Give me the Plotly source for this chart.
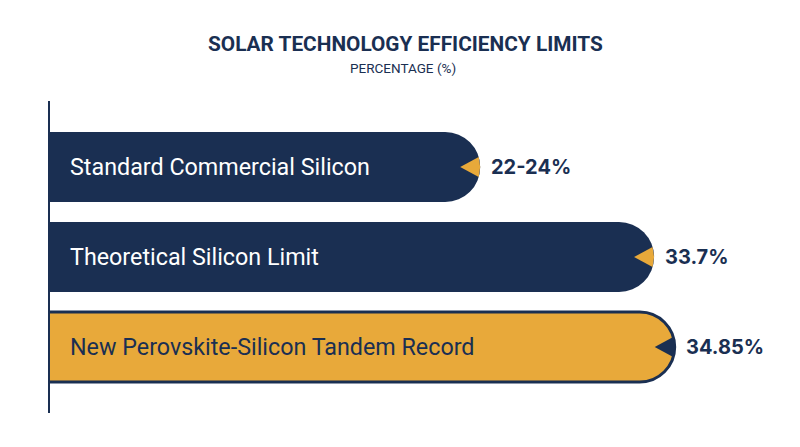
import plotly.graph_objects as go

categories = ["Standard Commercial Silicon", "Theoretical Silicon Limit", "New Perovskite-Silicon Tandem Record"]
values = [24, 33.7, 34.85]
value_labels = ["22-24%", "33.7%", "34.85%"]

NAVY = "#1a2f52"
ORANGE = "#e8a93a"
bar_colors = [NAVY, NAVY, ORANGE]
notch_colors = [ORANGE, ORANGE, NAVY]
line_widths = [0, 0, 3]

W, H = 800, 447
ML, MR, MT, MB = 42, 41, 93, 42
XMAX = 40
px_per_x = (W - ML - MR) / XMAX
Y_SPAN = 2 * 0.7333 + 2
px_per_y = (H - MT - MB) / Y_SPAN
BASE = -2.5

positions = list(range(len(categories)))

fig = go.Figure()
for i, v in enumerate(values):
    fig.add_trace(go.Bar(
        y=[positions[i]], x=[v - BASE], base=[BASE], orientation="h",
        width=0.778,
        marker=dict(color=bar_colors[i], cornerradius=35,
                    line=dict(color=NAVY, width=line_widths[i])),
        hoverinfo="skip", showlegend=False,
    ))
    # notch wedge at the bar end
    dx_tip = 20 / px_per_x
    dx_base = 1.5 / px_per_x
    dy = 10 / px_per_y
    p = positions[i]
    fig.add_trace(go.Scatter(
        x=[v - dx_tip, v - dx_base, v, v - dx_base, v - dx_tip],
        y=[p, p - dy, p, p + dy, p],
        mode="lines", fill="toself", fillcolor=notch_colors[i],
        line=dict(width=0, color=notch_colors[i]),
        hoverinfo="skip", showlegend=False,
    ))

annotations = []
for i, v in enumerate(values):
    annotations.append(dict(
        x=0, y=positions[i], xref="x", yref="y", text=categories[i], showarrow=False,
        xanchor="left", xshift=18,
        font=dict(family="Roboto", size=23.3,
                  color="white" if bar_colors[i] == NAVY else NAVY),
    ))
    annotations.append(dict(
        x=v, y=positions[i], xref="x", yref="y", text="<b>" + value_labels[i] + "</b>", showarrow=False,
        xanchor="left", xshift=9,
        font=dict(family="Inter", size=20, color=NAVY),
    ))
title_px = [(36, "<b>SOLAR TECHNOLOGY EFFICIENCY LIMITS</b>", 20.8, -3),
            (60, "PERCENTAGE (%)", 13.5, -6)]
for ypx, txt, sz, xs in title_px:
    annotations.append(dict(
        x=0.5, y=1 + (MT - ypx) / (H - MT - MB), xref="paper", yref="paper", text=txt,
        yanchor="middle", xshift=xs,
        showarrow=False, font=dict(family="Roboto", size=sz, color=NAVY),
    ))

fig.update_layout(
    width=W, height=H,
    margin=dict(l=ML, r=MR, t=MT, b=MB),
    paper_bgcolor="white", plot_bgcolor="white",
    barmode="overlay",
    xaxis=dict(range=[0, XMAX], showgrid=False, zeroline=False, showticklabels=False, showline=False),
    yaxis=dict(range=[positions[-1] + 0.7333, positions[0] - 0.7333], showgrid=False, zeroline=False,
               showticklabels=False, tickvals=positions, ticktext=categories,
               showline=True, linecolor=NAVY, linewidth=2),
    annotations=annotations,
)
fig.write_html("out.html")
